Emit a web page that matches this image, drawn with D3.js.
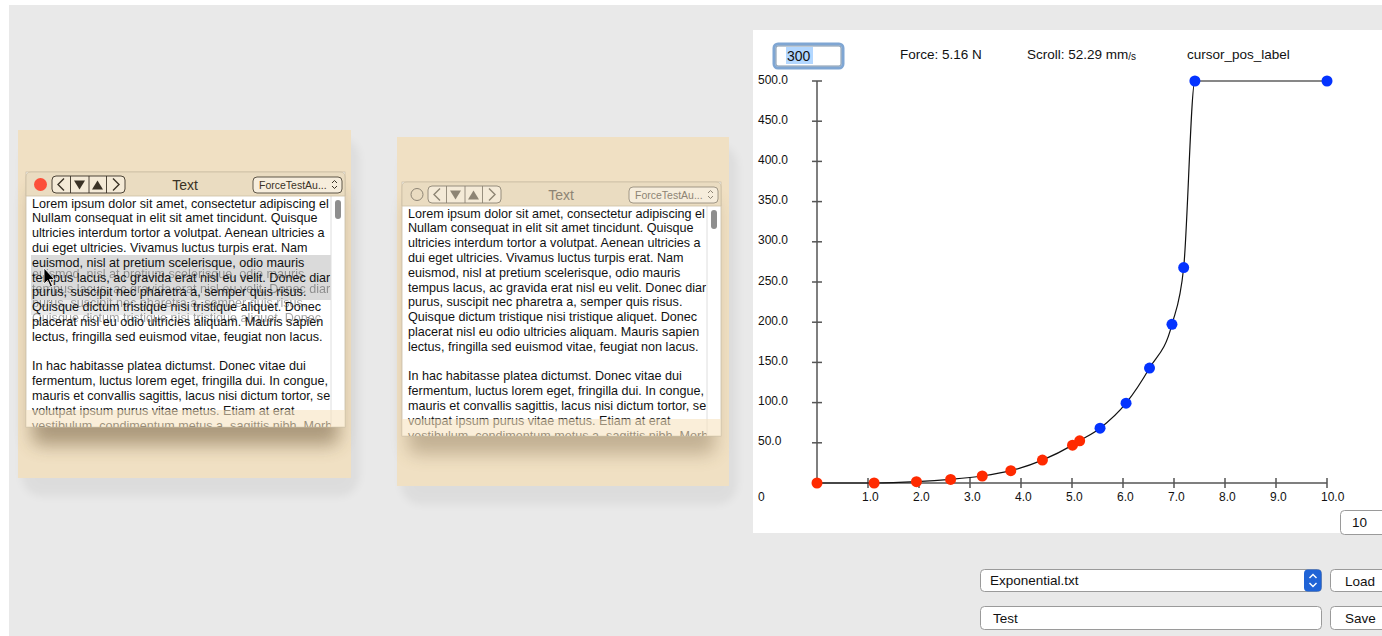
<!DOCTYPE html>
<html>
<head>
<meta charset="utf-8">
<script src="https://cdn.jsdelivr.net/npm/d3@7"></script>
<style>
  body { margin: 0; background: #fff; overflow: hidden; }
  svg { display: block; font-family: "Liberation Sans", Arial, sans-serif; }
</style>
</head>
<body>
<svg width="1382" height="636"></svg>
<script>
// force curve, position (mm) against force (N)
const posX   = [0, 1.12, 1.95, 2.62, 3.24, 3.80, 4.42, 5.01, 5.15, 5.55, 6.06, 6.52, 6.96, 7.19, 7.41, 10.0];
const forceY = [0, 0, 1.6, 4.5, 8.7, 15.3, 28.5, 47.1, 52.5, 68.2, 99.3, 143, 197.3, 268, 500, 500];
const cursorPos = 5.16;   // points left of this are drawn red

const xTicks = [1, 2, 3, 4, 5, 6, 7, 8, 9, 10];
const yTicks = [50, 100, 150, 200, 250, 300, 350, 400, 450, 500];

const headerLabels = ["Force: 5.16 N", "Scroll: 52.29 mm", "cursor_pos_label"];

const loremLines = [
  "Lorem ipsum dolor sit amet, consectetur adipiscing el",
  "Nullam consequat in elit sit amet tincidunt. Quisque",
  "ultricies interdum tortor a volutpat. Aenean ultricies a",
  "dui eget ultricies. Vivamus luctus turpis erat. Nam",
  "euismod, nisl at pretium scelerisque, odio mauris",
  "tempus lacus, ac gravida erat nisl eu velit. Donec diar",
  "purus, suscipit nec pharetra a, semper quis risus.",
  "Quisque dictum tristique nisi tristique aliquet. Donec",
  "placerat nisl eu odio ultricies aliquam. Mauris sapien",
  "lectus, fringilla sed euismod vitae, feugiat non lacus.",
  "",
  "In hac habitasse platea dictumst. Donec vitae dui",
  "fermentum, luctus lorem eget, fringilla dui. In congue,",
  "mauris et convallis sagittis, lacus nisi dictum tortor, se",
  "volutpat ipsum purus vitae metus. Etiam at erat",
  "vestibulum, condimentum metus a, sagittis nibh. Morb"
];

const points = posX.map((x, i) => ({ x: x, y: forceY[i] }));

const svg = d3.select("svg");

const defs = svg.append("defs");
defs.append("filter").attr("id", "blur").attr("x", "-30%").attr("y", "-30%").attr("width", "160%").attr("height", "160%")
  .append("feGaussianBlur").attr("stdDeviation", 9);
defs.append("filter").attr("id", "blurSmall").attr("x", "-30%").attr("y", "-30%").attr("width", "160%").attr("height", "160%")
  .append("feGaussianBlur").attr("stdDeviation", 5);

// page background
svg.append("rect").attr("x", 9).attr("y", 5).attr("width", 1373).attr("height", 631).attr("fill", "#e9e9e9");

// ---------- text windows ----------
const windows = [
  { bx: 18, by: 130, bw: 333, bh: 348, x: 26, y: 172, w: 319, h: 255, active: true },
  { bx: 397, by: 137, bw: 332, bh: 349, x: 402, y: 182, w: 319, h: 254, active: false }
];

windows.forEach((o, i) => drawWindow(o, i));

function drawWindow(o, i) {
  const g = svg.append("g");

  // soft gray shadow on the page
  g.append("rect")
    .attr("x", o.bx + 4).attr("y", o.by + 8).attr("width", o.bw + 4).attr("height", o.bh + 10)
    .attr("rx", 20).attr("fill", "#000").attr("opacity", 0.05).attr("filter", "url(#blurSmall)");

  g.append("rect")
    .attr("x", o.bx).attr("y", o.by).attr("width", o.bw).attr("height", o.bh)
    .attr("fill", "#f0e0c3");

  // window shadow
  g.append("rect")
    .attr("x", o.x + 6).attr("y", o.y + 18).attr("width", o.w - 12).attr("height", o.h)
    .attr("rx", 8).attr("fill", "#5a4526").attr("opacity", o.active ? 0.45 : 0.3)
    .attr("filter", "url(#blur)");

  // content
  g.append("rect")
    .attr("x", o.x).attr("y", o.y).attr("width", o.w).attr("height", o.h)
    .attr("fill", "#fff").attr("stroke", "#c9bda8").attr("stroke-width", 0.8);

  const clipId = "clip" + i;
  defs.append("clipPath").attr("id", clipId)
    .append("rect").attr("x", o.x + 1).attr("y", o.y + 24).attr("width", o.w - 15).attr("height", o.h - 24);

  const body = g.append("g").attr("clip-path", `url(#${clipId})`);

  if (o.active) {
    body.append("rect").attr("x", o.x + 5).attr("y", 255).attr("width", 300).attr("height", 45).attr("fill", "#dadada");
    body.append("rect").attr("x", o.x + 5).attr("y", 300).attr("width", 200).attr("height", 15).attr("fill", "#ebebeb");
    // ghost copy of the highlighted lines
    body.append("g").attr("opacity", 0.45)
      .selectAll("text").data(loremLines.slice(4, 8)).join("text")
      .attr("x", o.x + 6)
      .attr("y", (d, k) => o.y + 35.5 + (k + 4) * 14.8 + 11)
      .attr("font-size", 12.6).attr("fill", "#333")
      .text(d => d);
  }

  body.selectAll("text.line").data(loremLines).join("text")
    .attr("class", "line")
    .attr("x", o.x + 6)
    .attr("y", (d, k) => o.y + 35.5 + k * 14.8)
    .attr("font-size", 12.6).attr("fill", "#111")
    .text(d => d);

  // scroll track and knob
  g.append("line").attr("x1", o.x + 305).attr("x2", o.x + 305).attr("y1", o.y + 24).attr("y2", o.y + o.h)
    .attr("stroke", "#dedede");
  g.append("rect").attr("x", o.x + 309).attr("y", o.y + 28).attr("width", 6).attr("height", 19)
    .attr("rx", 3).attr("fill", "#8e8e8e");

  // bottom beige band
  g.append("rect").attr("x", o.x).attr("y", o.y + o.h - 17).attr("width", o.w).attr("height", 17)
    .attr("fill", "#f6e3bf").attr("opacity", 0.6);

  // title bar
  g.append("path")
    .attr("d", `M${o.x},${o.y + 24} V${o.y + 5} Q${o.x},${o.y} ${o.x + 5},${o.y} H${o.x + o.w - 5} Q${o.x + o.w},${o.y} ${o.x + o.w},${o.y + 5} V${o.y + 24} Z`)
    .attr("fill", "#eadcc1").attr("stroke", "#cdbf a3".replace(" ", "")).attr("stroke-width", 0.8);

  const glyph = o.active ? "#3a3226" : "#8d8474";
  const cy = o.y + 12.5;

  if (o.active) {
    g.append("circle").attr("cx", o.x + 14.5).attr("cy", cy).attr("r", 6.5).attr("fill", "#fc4f39");
  } else {
    g.append("circle").attr("cx", o.x + 15).attr("cy", cy).attr("r", 6).attr("fill", "none").attr("stroke", "#8d8474");
  }

  // nav button strip
  const nx = o.x + 26, nw = 73, ny = o.y + 4, nh = 17;
  g.append("rect").attr("x", nx).attr("y", ny).attr("width", nw).attr("height", nh).attr("rx", 4)
    .attr("fill", "#f4ead7").attr("stroke", glyph).attr("stroke-width", 0.9);
  [18.5, 37, 54.5].forEach(dx => {
    g.append("line").attr("x1", nx + dx).attr("x2", nx + dx).attr("y1", ny).attr("y2", ny + nh)
      .attr("stroke", glyph).attr("stroke-width", 0.9);
  });
  g.append("path").attr("d", `M${nx + 12},${cy - 6} L${nx + 6},${cy} L${nx + 12},${cy + 6}`)
    .attr("fill", "none").attr("stroke", glyph).attr("stroke-width", 1.4);
  g.append("path").attr("d", `M${nx + 22},${cy - 4} H${nx + 33} L${nx + 27.5},${cy + 5} Z`).attr("fill", glyph);
  g.append("path").attr("d", `M${nx + 40},${cy + 5} H${nx + 51} L${nx + 45.5},${cy - 4} Z`).attr("fill", glyph);
  g.append("path").attr("d", `M${nx + 61},${cy - 6} L${nx + 67},${cy} L${nx + 61},${cy + 6}`)
    .attr("fill", "none").attr("stroke", glyph).attr("stroke-width", 1.4);

  g.append("text").attr("x", o.x + 159).attr("y", cy + 5).attr("text-anchor", "middle")
    .attr("font-size", 14).attr("fill", o.active ? "#3a3226" : "#8d8474").text("Text");

  // popup
  const px = o.x + 227, pw = 89;
  g.append("rect").attr("x", px).attr("y", o.y + 5).attr("width", pw).attr("height", 16).attr("rx", 4)
    .attr("fill", "#f6eddc").attr("stroke", glyph).attr("stroke-width", 0.8);
  g.append("text").attr("x", px + 6).attr("y", cy + 4).attr("font-size", 10.5)
    .attr("fill", o.active ? "#3a3226" : "#8d8474").text("ForceTestAu...");
  g.append("path").attr("d", `M${px + pw - 10},${cy - 1.5} l2.5,-2.5 l2.5,2.5 M${px + pw - 10},${cy + 1.5} l2.5,2.5 l2.5,-2.5`)
    .attr("fill", "none").attr("stroke", glyph).attr("stroke-width", 1);

  if (o.active) {
    // mouse pointer
    g.append("path")
      .attr("d", "M44,268 L44,284 L47.5,280.5 L50.5,287 L52.5,286 L49.5,279.5 L54.5,279.5 Z")
      .attr("fill", "#000").attr("stroke", "#fff").attr("stroke-width", 0.8);
  }
}

// ---------- chart panel ----------
svg.append("rect").attr("x", 753).attr("y", 30).attr("width", 640).attr("height", 503).attr("fill", "#fff");

const x = d3.scaleLinear().domain([0, 10]).range([817, 1327]);
const y = d3.scaleLinear().domain([0, 500]).range([483, 81]);

// header: "300" field and labels
svg.append("rect").attr("x", 774).attr("y", 44).attr("width", 69).attr("height", 24).attr("rx", 4)
  .attr("fill", "#fff").attr("stroke", "#7fa6d3").attr("stroke-width", 3);
svg.append("rect").attr("x", 776).attr("y", 46).attr("width", 65).attr("height", 20).attr("rx", 2)
  .attr("fill", "none").attr("stroke", "#5d7894").attr("stroke-width", 0.8);
svg.append("rect").attr("x", 786).attr("y", 47).attr("width", 27).attr("height", 17).attr("fill", "#b3d7ff");
svg.append("text").attr("x", 787).attr("y", 61).attr("font-size", 14).attr("fill", "#111").text("300");

const hdr = svg.append("g").attr("font-size", 13.5).attr("fill", "#111");
hdr.append("text").attr("x", 900).attr("y", 59).text(headerLabels[0]);
hdr.append("text").attr("x", 1027).attr("y", 59).text(headerLabels[1])
  .append("tspan").attr("font-size", 10).attr("dy", 1).text("/s");
hdr.append("text").attr("x", 1187).attr("y", 59).text(headerLabels[2]);

// axes
const axis = svg.append("g").attr("stroke", "#555").attr("stroke-width", 1.5);
axis.append("line").attr("x1", x(0)).attr("x2", x(0)).attr("y1", y(500)).attr("y2", y(0));
axis.append("line").attr("x1", x(0)).attr("x2", x(10)).attr("y1", y(0)).attr("y2", y(0));
axis.selectAll("line.yt").data(yTicks).join("line").attr("class", "yt")
  .attr("x1", x(0) - 5).attr("x2", x(0) + 5).attr("y1", d => y(d)).attr("y2", d => y(d));
axis.selectAll("line.xt").data(xTicks).join("line").attr("class", "xt")
  .attr("x1", d => x(d)).attr("x2", d => x(d)).attr("y1", y(0) - 5).attr("y2", y(0) + 5);

const lbl = svg.append("g").attr("font-size", 12).attr("fill", "#111");
lbl.selectAll("text.yl").data(yTicks).join("text").attr("class", "yl")
  .attr("x", 758).attr("y", d => y(d) + 2.5).text(d => d.toFixed(1));
lbl.selectAll("text.xl").data(xTicks).join("text").attr("class", "xl")
  .attr("x", d => x(d) - 6).attr("y", y(0) + 18).text(d => d.toFixed(1));
lbl.append("text").attr("x", 758).attr("y", y(0) + 18).text("0");

// curve
const line = d3.line().x(d => x(d.x)).y(d => y(d.y)).curve(d3.curveMonotoneX);
svg.append("path").datum(points).attr("d", line)
  .attr("fill", "none").attr("stroke", "#111").attr("stroke-width", 1.2);

svg.selectAll("circle.pt").data(points).join("circle").attr("class", "pt")
  .attr("cx", d => x(d.x)).attr("cy", d => y(d.y)).attr("r", 5.5)
  .attr("fill", d => d.x <= cursorPos ? "#ff2a00" : "#0433ff");

// "10" field
svg.append("rect").attr("x", 1340.5).attr("y", 510.5).attr("width", 60).attr("height", 24).attr("rx", 4)
  .attr("fill", "#fff").attr("stroke", "#9a9a9a");
svg.append("text").attr("x", 1352).attr("y", 527).attr("font-size", 13.5).attr("fill", "#111").text("10");

// ---------- bottom controls ----------
const ctl = svg.append("g").attr("font-size", 13.5).attr("fill", "#111");
ctl.append("rect").attr("x", 980.5).attr("y", 569.5).attr("width", 341).attr("height", 22).attr("rx", 4)
  .attr("fill", "#fff").attr("stroke", "#9a9a9a");
ctl.append("rect").attr("x", 1304).attr("y", 569.5).attr("width", 17.5).attr("height", 22).attr("rx", 4)
  .attr("fill", "#1f63d6");
ctl.append("path").attr("d", "M1309.5,578 l3.5,-3.5 l3.5,3.5 M1309.5,583 l3.5,3.5 l3.5,-3.5")
  .attr("fill", "none").attr("stroke", "#fff").attr("stroke-width", 1.4);
ctl.append("text").attr("x", 990).attr("y", 585).text("Exponential.txt");

ctl.append("rect").attr("x", 980.5).attr("y", 606.5).attr("width", 341).attr("height", 23).attr("rx", 4)
  .attr("fill", "#fff").attr("stroke", "#9a9a9a");
ctl.append("text").attr("x", 993).attr("y", 623).text("Test");

[["Load", 569.5, 22], ["Save", 606.5, 23]].forEach(b => {
  ctl.append("rect").attr("x", 1330.5).attr("y", b[1]).attr("width", 70).attr("height", b[2]).attr("rx", 4)
    .attr("fill", "#fff").attr("stroke", "#9a9a9a");
  ctl.append("text").attr("x", 1345).attr("y", b[1] + 16).text(b[0]);
});
</script>
</body>
</html>
